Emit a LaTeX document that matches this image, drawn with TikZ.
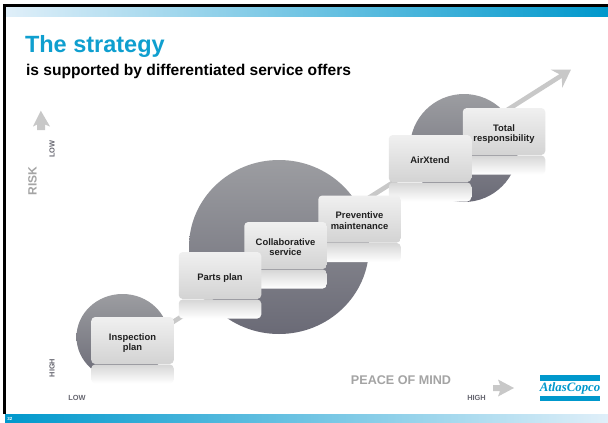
\documentclass[tikz,border=0pt]{standalone}
\usepackage{fontspec}
\setmainfont{Liberation Sans}
\newfontfamily\logofont{Liberation Serif}
\usetikzlibrary{arrows.meta,calc}
\definecolor{acblue}{HTML}{0098CC}
\definecolor{titleblue}{HTML}{0F9FCF}
\definecolor{midblue}{HTML}{6FC4E3}
\definecolor{paleblue}{HTML}{E0EFF9}
\definecolor{arrowgrey}{HTML}{C8C8C8}
\definecolor{txtgrey}{HTML}{666670}
\definecolor{softgrey}{HTML}{A4A4A4}
\definecolor{orbtop}{HTML}{9C9DA1}
\definecolor{orbbot}{HTML}{6A6A76}
\definecolor{boxtop}{HTML}{F0F0F0}
\definecolor{boxbot}{HTML}{D3D3D3}
\definecolor{mirrortop}{HTML}{D6D6D6}
\tikzset{
  x=1pt,y=-1pt,
  txt/.style={inner sep=0pt,outer sep=0pt},
  offerbox/.style={txt,minimum width=82.5pt,minimum height=47pt,rounded corners=4pt,
    top color=boxtop,bottom color=boxbot,
    text=black!88,font=\bfseries\fontsize{9.4}{10.5}\selectfont},
  mirrorbox/.style={txt,minimum width=82.5pt,minimum height=19pt,rounded corners=4pt,
    top color=mirrortop,bottom color=white},
  axis/.style={txt,text=txtgrey,font=\bfseries\fontsize{7.4}{8}\selectfont},
  softlabel/.style={txt,text=softgrey,font=\bfseries\fontsize{12}{13}\selectfont},
  fatarrow/.style={fill=arrowgrey,draw=none},
}
\newcommand{\offerpair}[4]{%
  \node[mirrorbox] (#1m) at (#2,#3+33.5) {};
  \node[offerbox] (#1) at (#2,#3) {\raisebox{-5.3pt}[0pt][0pt]{\begin{tabular}{@{}c@{}}#4\end{tabular}}};
}
\newcommand{\orb}[4]{%
  \shade[top color=orbtop,bottom color=orbbot] (#1,#2) circle [x radius=#3pt,y radius=#4pt];
}
\begin{document}
\begin{tikzpicture}
\useasboundingbox (0,0) rectangle (608,423);
\fill[white] (0,0) rectangle (608,423);
% top and bottom bands
\shade[left color=paleblue,right color=acblue,middle color=midblue] (5,6) rectangle (608,16);
\shade[left color=acblue,right color=paleblue,middle color=midblue] (5,414) rectangle (608,423);
\fill[black] (3,3.5) rectangle (608,6.5);
\fill[black] (3,3.5) rectangle (5.5,414);
% titles
\node[txt,anchor=base west,text=titleblue,font=\bfseries\fontsize{23.5}{26}\selectfont] (title) at (25,52) {The strategy};
\node[txt,anchor=base west,text=black,font=\bfseries\fontsize{15.6}{17}\selectfont] (sub) at (26,75) {is supported by differentiated service offers};
% discs
\orb{122.5}{337}{46}{43}
\orb{279}{247}{90}{87}
\orb{464}{148}{54}{54}
% rising arrow
\coordinate (tip) at (571,69.5);
\coordinate (inspanchor) at (132,348);
\draw[arrowgrey,line width=4.6pt,-{Stealth[length=17pt,width=21pt,inset=6pt]}] (inspanchor) -- (tip);
% offers, back to front
\offerpair{total}{504}{131.5}{Total\\responsibility}
\offerpair{air}{430}{158.5}{AirXtend}
\offerpair{prev}{359.5}{219}{Preventive\\maintenance}
\offerpair{collab}{285.5}{245.5}{Collaborative\\service}
\offerpair{parts}{220}{275.5}{Parts plan}
\offerpair{insp}{132.5}{340.5}{Inspection\\plan}
% axes
\fill[fatarrow] (40.8,110.7) -- (50,126.5) -- (45,124.5) -- (45,130) -- (37,130) -- (37,124.5) -- (33,126.5) -- cycle;
\fill[fatarrow] (514,388) -- (498,396.5) -- (500,391) -- (493,391) -- (493,385) -- (500,385) -- (498,379.5) -- cycle;
\node[axis,rotate=90] (lowy) at (52,149) {LOW};
\node[axis,rotate=90] (highy) at (52,368) {HIGH};
\node[axis] (lowx) at (77,398) {LOW};
\node[axis] (highx) at (476.5,398) {HIGH};
\node[softlabel,rotate=90] (risk) at (32.5,181) {RISK};
\node[softlabel,font=\bfseries\fontsize{12.6}{14}\selectfont] (peace) at (401,380) {PEACE OF MIND};
% logo
\fill[acblue] (540,375) rectangle (600,381);
\fill[acblue] (540,395.5) rectangle (600,401);
\node[txt,text=acblue,font=\logofont\bfseries\itshape\fontsize{12.8}{14}\selectfont] (logo) at (570,388.5) {AtlasCopco};
\node[txt,text=white,font=\bfseries\fontsize{4.5}{5}\selectfont] (page) at (10,419) {32};
\end{tikzpicture}
\end{document}
